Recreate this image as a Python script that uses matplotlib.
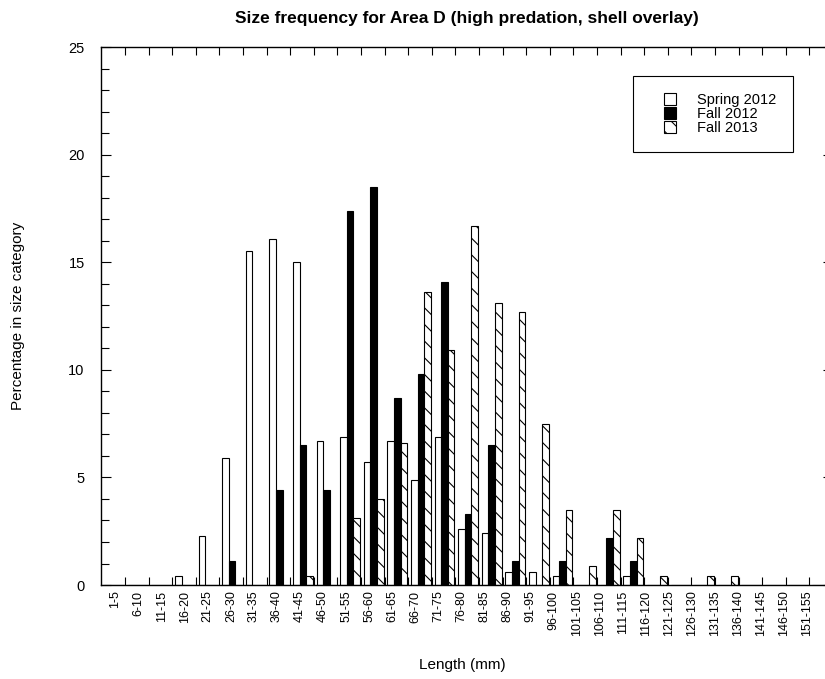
import numpy as np
import matplotlib
matplotlib.use("Agg")
import matplotlib.pyplot as plt
from matplotlib.patches import Rectangle
from matplotlib.legend_handler import HandlerPatch
from matplotlib.ticker import MultipleLocator

plt.rcParams['font.family'] = ['Liberation Sans', 'DejaVu Sans']
plt.rcParams['hatch.linewidth'] = 0.8

# size classes (mm)
size_classes = ["1-5", "6-10", "11-15", "16-20", "21-25", "26-30", "31-35", "36-40",
                "41-45", "46-50", "51-55", "56-60", "61-65", "66-70", "71-75", "76-80",
                "81-85", "86-90", "91-95", "96-100", "101-105", "106-110", "111-115",
                "116-120", "121-125", "126-130", "131-135", "136-140", "141-145",
                "146-150", "151-155"]

# percentage in each size class
spring_2012 = [0, 0, 0, 0.4, 2.3, 5.9, 15.5, 16.1, 15.0, 6.7, 6.9, 5.7, 6.7, 4.9, 6.9, 2.6,
               2.4, 0.6, 0.6, 0.4, 0, 0, 0.4, 0, 0, 0, 0, 0, 0, 0, 0]
fall_2012 = [0, 0, 0, 0, 0, 1.1, 0, 4.4, 6.5, 4.4, 17.4, 18.5, 8.7, 9.8, 14.1, 3.3,
             6.5, 1.1, 0, 1.1, 0, 2.2, 1.1, 0, 0, 0, 0, 0, 0, 0, 0]
fall_2013 = [0, 0, 0, 0, 0, 0, 0, 0, 0.4, 0, 3.1, 4.0, 6.6, 13.6, 10.9, 16.7,
             13.1, 12.7, 7.5, 3.5, 0.9, 3.5, 2.2, 0.4, 0, 0.4, 0.4, 0, 0, 0, 0]

series = ["Spring 2012", "Fall 2012", "Fall 2013"]
faces = ["white", "black", "white"]
hatches = ["", "", "\\\\"]

x = np.arange(len(size_classes))
w = 0.28
off = 0.12

fig = plt.figure(figsize=(8.25, 6.79), dpi=100)
ax = fig.add_axes([0.1229, 0.1384, 0.8868, 0.7923])

for i, vals in enumerate([spring_2012, fall_2012, fall_2013]):
    ax.bar(x + off + i * w, vals, w, align='edge', facecolor=faces[i], edgecolor='black',
           hatch=hatches[i], linewidth=0.8)

ax.set_xlim(0, len(size_classes))
ax.set_ylim(0, 25)

# labels drift slightly relative to the class boundaries in the original
ax.set_xticks(0.6 + x * 0.977)
ax.set_xticklabels(size_classes, rotation=90, va='top', ha='center', fontsize=9)
ax.set_xticks(np.arange(1, len(size_classes)), minor=True)
ax.tick_params(axis='x', which='major', length=0, pad=4)
ax.tick_params(axis='x', which='minor', direction='in', length=6, width=0.8,
               top=True, bottom=True)

ax.set_yticks(range(0, 26, 5))
ax.yaxis.set_minor_locator(MultipleLocator(1))
ax.tick_params(axis='y', which='major', direction='in', length=7, width=0.8,
               left=True, right=True, labelsize=10.5, pad=12)
ax.tick_params(axis='y', which='minor', direction='in', length=6, width=0.8,
               left=True, right=False)
for s in ax.spines.values():
    s.set_linewidth(1.0)


def square(legend, orig_handle, xdescent, ydescent, width, height, fontsize):
    s = 0.85 * fontsize
    return Rectangle((width - s - xdescent, (height - s) / 2 - ydescent), s, s)


proxies = [Rectangle((0, 0), 1, 1, facecolor=faces[i], edgecolor='black',
                     hatch=hatches[i], linewidth=0.8) for i in range(3)]
leg = ax.legend(proxies, series, loc='upper left',
                bbox_to_anchor=(633 / 825, 1 - 76 / 679),
                bbox_transform=fig.transFigure, borderaxespad=0, fontsize=10.5,
                fancybox=False, framealpha=1, edgecolor='black',
                handlelength=1.8, handleheight=0.85, handletextpad=1.45,
                borderpad=1.15, labelspacing=0.0,
                handler_map={Rectangle: HandlerPatch(patch_func=square)})
leg.get_frame().set_linewidth(0.8)

fig.text(467 / 825, 1 - 18 / 679, "Size frequency for Area D (high predation, shell overlay)",
         ha='center', va='center', fontsize=12.5, fontweight='bold')
fig.text(462 / 825, 1 - 665 / 679, "Length (mm)", ha='center', va='center', fontsize=11)
fig.text(18 / 825, 1 - 316 / 679, "Percentage in size category", ha='center', va='center',
         rotation=90, fontsize=11)

fig.savefig("out.png", dpi=100)
